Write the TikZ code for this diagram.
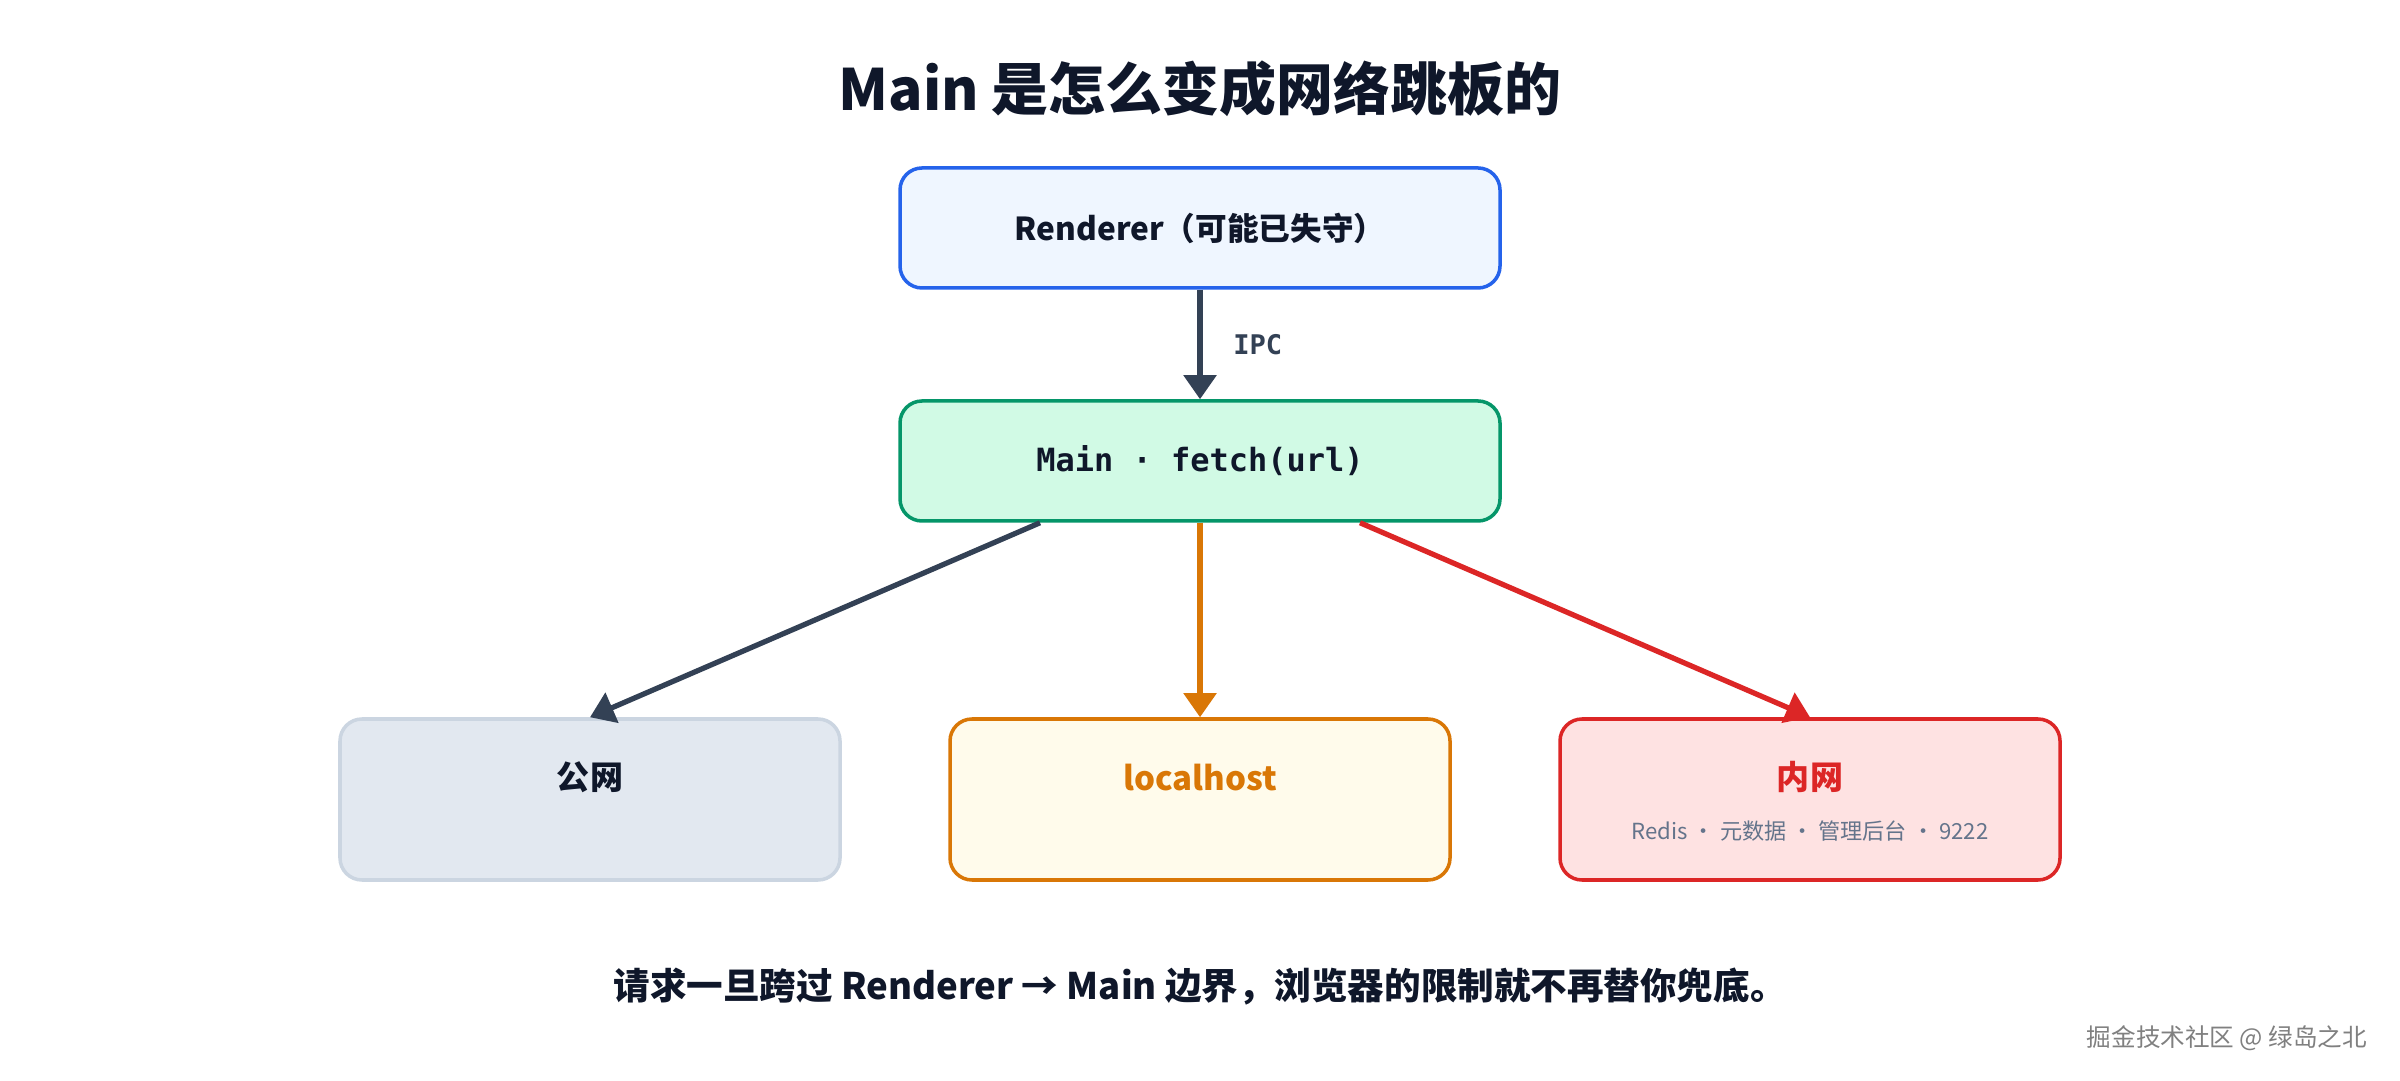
\documentclass[tikz,border=0pt]{standalone}
\usepackage{fontspec}
\setmainfont{Noto Sans CJK SC}
\newfontfamily\codefont{DejaVu Sans Mono}
\usepackage{tikz}
\usetikzlibrary{arrows.meta}
\definecolor{ink}{HTML}{0F172A}
\definecolor{slateLine}{HTML}{334155}
\definecolor{rendFill}{HTML}{EFF6FF}
\definecolor{rendBorder}{HTML}{2563EB}
\definecolor{mainFill}{HTML}{D1FAE5}
\definecolor{mainBorder}{HTML}{059669}
\definecolor{pubFill}{HTML}{E2E8F0}
\definecolor{pubBorder}{HTML}{CBD5E1}
\definecolor{localFill}{HTML}{FFFBEB}
\definecolor{localBorder}{HTML}{D97706}
\definecolor{innerFill}{HTML}{FEE2E2}
\definecolor{innerBorder}{HTML}{DC2626}
\definecolor{subGray}{HTML}{64748B}

\begin{document}
\begin{tikzpicture}[panel/.style={draw, rounded corners=2.2mm, line width=1pt, minimum width=6cm, minimum height=1.2cm},
	lowpanel/.style={panel, minimum width=5cm, minimum height=1.61cm},
	link/.style={line width=1.5pt, -{Triangle[width=3.2mm,length=2.4mm]}},
	lbl/.style={font=\bfseries\fontsize{9.4}{11}\selectfont}]
	\useasboundingbox[fill=white] (0,0) rectangle (24,10.8);
	\node[text=ink] (title) at (12,9.91) {\bfseries\fontsize{16.2}{19}\selectfont Main 是怎么变成网络跳板的};
	\node[panel, draw=rendBorder, fill=rendFill, text=ink, font=\bfseries\fontsize{9}{11}\selectfont] (renderer) at (12,8.52) {Renderer（可能已失守）};
	\node[panel, draw=mainBorder, fill=mainFill, text=ink] (main) at (12,6.19) {\codefont\bfseries\fontsize{9.1}{11}\selectfont Main · fetch(url)};
	\node[lowpanel, draw=pubBorder, fill=pubFill] (public) at (5.9,2.805) {};
	\node[lowpanel, draw=localBorder, fill=localFill] (local) at (12,2.805) {};
	\node[lowpanel, draw=innerBorder, fill=innerFill] (inner) at (18.1,2.805) {};
	\node[lbl, text=ink] (publiclbl) at ([yshift=-6mm]public.north) {公网};
	\node[lbl, text=localBorder] (locallbl) at ([yshift=-6mm]local.north) {localhost};
	\node[lbl, text=innerBorder] (innerlbl) at ([yshift=-6mm]inner.north) {内网};
	\node[text=subGray, font=\fontsize{6.3}{8}\selectfont] (innersub) at ([yshift=-11.4mm]inner.north) {Redis · 元数据 · 管理后台 · 9222};
	\draw[link, color=slateLine] (renderer) -- (main) node[midway, right=1.9mm, text=slateLine] (ipc) {\codefont\bfseries\fontsize{7.7}{9}\selectfont IPC};
	\draw[link, color=slateLine] ([xshift=-16mm]main.south) -- (public.north);
	\draw[link, color=localBorder] (main.south) -- (local.north);
	\draw[link, color=innerBorder] ([xshift=16mm]main.south) -- (inner.north);
	\node[text=ink] (footer) at (12,0.93) {\bfseries\fontsize{10.4}{12}\selectfont 请求一旦跨过 Renderer → Main 边界，浏览器的限制就不再替你兜底。};
	\node[text=gray, font=\fontsize{7}{8}\selectfont] (mark) at (22.27,0.42) {掘金技术社区 @ 绿岛之北};
\end{tikzpicture}
\end{document}
